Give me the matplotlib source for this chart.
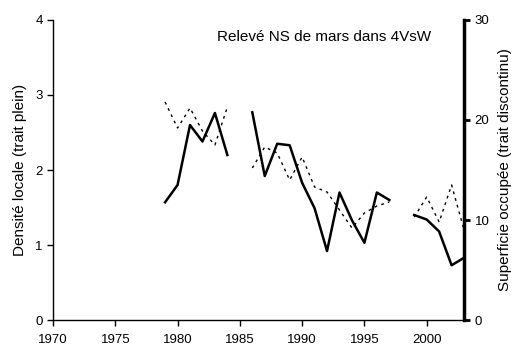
#!/usr/bin/env python3
"""Releve NS de mars dans 4VsW: densite locale et superficie occupee."""

import numpy as np
import matplotlib

matplotlib.use("Agg")
import matplotlib.pyplot as plt  # noqa: E402

YEARS = list(range(1979, 2004))
# NaN = gap (1985, 1998)
DENSITY = [1.57, 1.80, 2.60, 2.38, 2.76, 2.20, np.nan,
           2.77, 1.92, 2.35, 2.33, 1.83, 1.49, 0.92, 1.70, 1.33, 1.03, 1.70, 1.60,
           np.nan, 1.40, 1.34, 1.18, 0.73, 0.83]
AREA = [21.8, 19.2, 21.2, 18.9, 17.5, 21.3, np.nan,
        15.2, 17.3, 16.7, 14.0, 16.3, 13.3, 12.8, 11.0, 9.2, 10.7, 11.4, 11.8,
        np.nan, 10.3, 12.3, 9.8, 13.5, 9.0]

plt.rcParams.update({
    "font.family": ["Liberation Sans", "DejaVu Sans"],
    "font.size": 9,
})

fig = plt.figure(figsize=(5.22, 3.57), dpi=100)
ax = fig.add_axes([0.1015, 0.1036, 0.7875, 0.8404])
ax2 = ax.twinx()

ax.plot(YEARS, DENSITY, color="black", linewidth=1.8)
ax2.plot(YEARS, AREA, color="black", linewidth=1.0, linestyle=(0, (2, 3)))

ax.set_xlim(1970, 2003)
ax.set_ylim(0, 4)
ax2.set_ylim(0, 30)
ax.set_xticks(range(1970, 2001, 5))
ax.set_yticks(range(0, 5))
ax2.set_yticks([0, 10, 20, 30])

for a in (ax, ax2):
    a.spines["top"].set_visible(False)
ax.spines["right"].set_visible(False)
ax2.spines["left"].set_visible(False)
ax2.spines["bottom"].set_visible(False)
ax.spines["left"].set_linewidth(1.0)
ax.spines["bottom"].set_linewidth(1.0)
ax2.spines["right"].set_linewidth(2.5)

ax.tick_params(axis="both", direction="out", length=4, width=1.0, labelsize=9.5)
ax2.tick_params(axis="y", direction="out", length=4, width=2.0, labelsize=9.5)
ax.tick_params(axis="x", pad=6)

ax.set_ylabel("Densité locale (trait plein)", fontsize=11, labelpad=6)
ax2.set_ylabel("Superficie occupée (trait discontinu)", fontsize=11, labelpad=6)
ax.text(0.66, 0.965, "Relevé NS de mars dans 4VsW", transform=ax.transAxes,
        ha="center", va="top", fontsize=11)

fig.savefig("out.png", dpi=100)
